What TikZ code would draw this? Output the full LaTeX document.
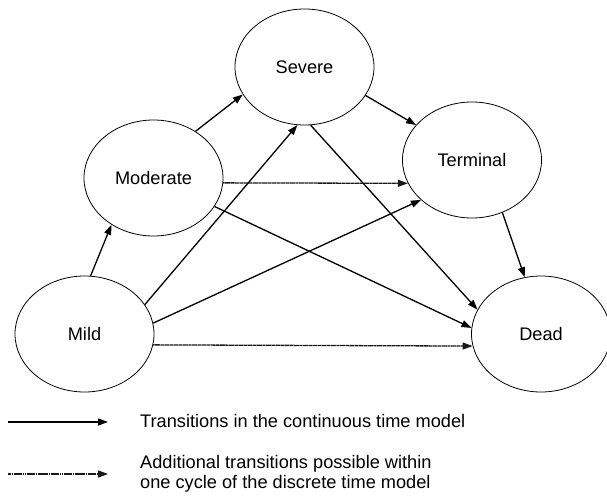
\documentclass[tikz,border=0pt]{standalone}
\usepackage{fontspec}
\setmainfont{Liberation Sans}
\usetikzlibrary{shapes.geometric,arrows.meta}
\begin{document}
\begin{tikzpicture}[x=1pt,y=-1pt,
  state/.style={draw,ellipse,line width=0.8pt,minimum width=139pt,minimum height=116pt,inner sep=0pt,font=\fontsize{18.2}{20}\selectfont},
  tr/.style={line width=1.3pt,-{Triangle[length=10pt,width=7pt]}},
  addtr/.style={tr,black!90,dash pattern=on 1.5pt off 0.35pt},
  lbl/.style={font=\fontsize{18.2}{19.5}\selectfont,anchor=west,align=left,inner sep=0pt}]
\useasboundingbox (0,0) rectangle (607,497);
\node[state] (sev) at (304.5,67) {Severe};
\node[state] (mod) at (153.5,178) {Moderate};
\node[state] (ter) at (472,160) {Terminal};
\node[state] (mild) at (84.5,334) {Mild};
\node[state] (dead) at (541,334) {Dead};
% continuous transitions
\draw[tr] (mild.84.6) -- (mod.228.6);
\draw[tr] (mod.48.2) -- (sev.204.9);
\draw[tr] (sev.-25.3) -- (ter.148.4);
\draw[tr] (ter.-60) -- (dead.106.3);
\draw[tr] (mild.26.4) -- (sev.263.6);
\draw[tr] (mild.9) -- (ter.218.8);
\draw[tr] (mod.-25.6) -- (dead.175.4);
\draw[tr] (sev.-84.6) -- (dead.159.1);
% additional transitions
\draw[addtr] (mod.-4.1) -- (ter.200);
\draw[addtr] (mild.-9.8) -- (dead.190.8);
% legend
\coordinate (l1a) at (8,422);
\coordinate (l1b) at (108,422);
\coordinate (l2a) at (8,474);
\coordinate (l2b) at (108,474);
\draw[tr] (l1a) -- (l1b);
\draw[addtr] (l2a) -- (l2b);
\node[lbl] (t1) at (140,421) {Transitions in the continuous time model};
\node[lbl] (t2) at (140,474) {Additional transitions possible within\\one cycle of the discrete time model};
\end{tikzpicture}
\end{document}
